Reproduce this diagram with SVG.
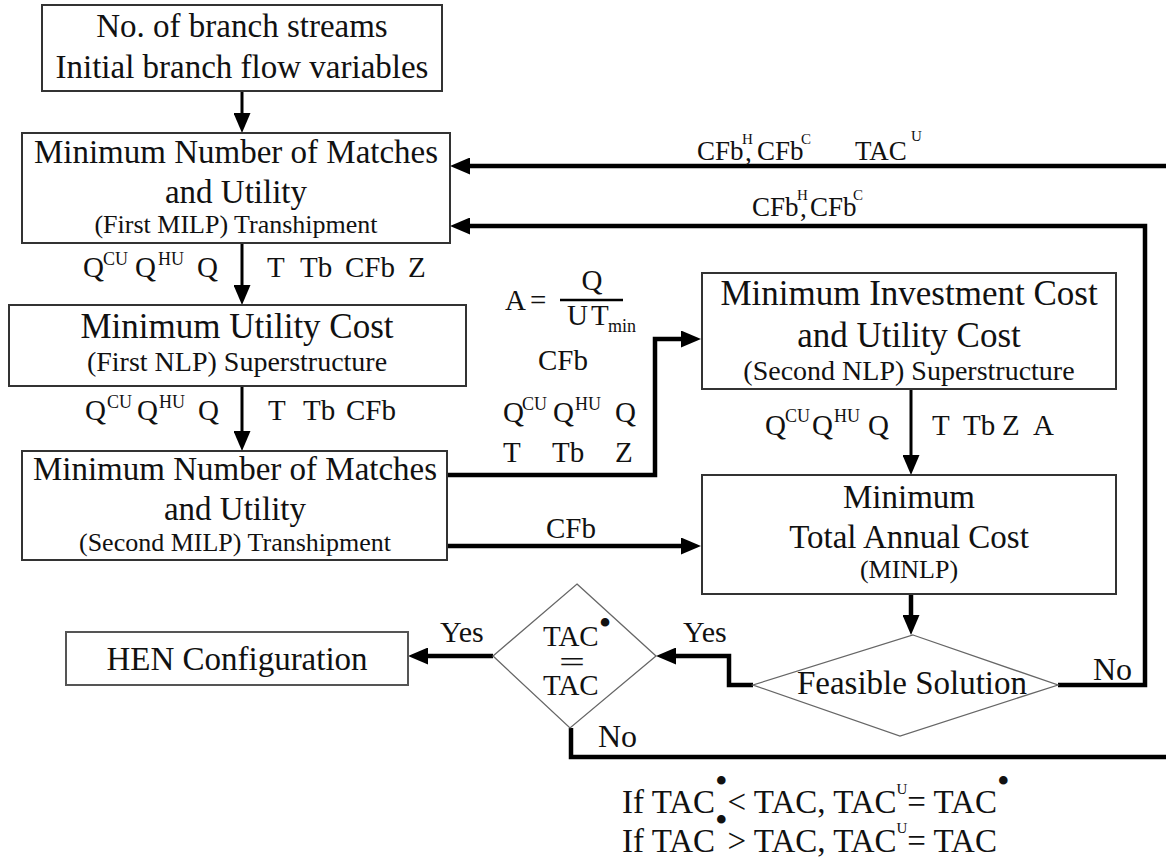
<svg xmlns="http://www.w3.org/2000/svg" width="1166" height="861" viewBox="0 0 1166 861">
<defs>
<style>
text { font-family: "Liberation Serif", "Times New Roman", serif; fill: #111; }
.box { fill: #fff; stroke: #333; stroke-width: 2; }
.dia { fill: #fff; stroke: #666; stroke-width: 1.3; }
.conn { fill: none; stroke: #000; stroke-width: 4.5; }
.vert { fill: none; stroke: #000; stroke-width: 3; }
.c { text-anchor: middle; }
.f33 { font-size: 33px; }
.f35 { font-size: 35px; }
.f28 { font-size: 28px; }
.f26 { font-size: 26px; }
.lab { font-size: 29px; }
.sup { font-size: 18px; }
.top { font-size: 27px; }
.tsup { font-size: 15px; }
.dot { font-size: 36px; }
</style>
<marker id="ah" markerUnits="userSpaceOnUse" markerWidth="20" markerHeight="17" viewBox="0 0 20 17" refX="10" refY="8.5" orient="auto">
<path d="M0,0 L20,8.5 L0,17 z" fill="#000"/>
</marker>
</defs>
<rect width="1166" height="861" fill="#fff"/>

<g id="connectors">
<path class="vert" d="M242,91 V123" marker-end="url(#ah)"/>
<path class="vert" d="M242,243 V295" marker-end="url(#ah)"/>
<path class="vert" d="M242,386 V441" marker-end="url(#ah)"/>
<path class="conn" d="M447,475 H655 V339 H691" marker-end="url(#ah)"/>
<path class="conn" d="M447,546 H691" marker-end="url(#ah)"/>
<path class="vert" d="M911,389 V465" marker-end="url(#ah)"/>
<path class="conn" d="M911,594 V625" marker-end="url(#ah)"/>
<path class="conn" d="M753,685 H729 V656 H666" marker-end="url(#ah)"/>
<path class="conn" d="M493,656 H418" marker-end="url(#ah)"/>
<path class="conn" d="M1058,685 H1145 V226 H460" marker-end="url(#ah)"/>
<path class="conn" d="M1166,166 H460" marker-end="url(#ah)"/>
<path class="conn" d="M571,728 V757 H1166"/>
</g>

<g id="labels">
<text class="top" x="697" y="160">CFb</text>
<text class="tsup" x="742" y="144">H</text>
<text class="top" x="745" y="161">,</text>
<text class="top" x="757" y="160">CFb</text>
<text class="tsup" x="801" y="144">C</text>
<text class="top" x="855" y="160">TAC</text>
<text class="tsup" x="911" y="141">U</text>

<text class="top" x="752" y="216">CFb</text>
<text class="tsup" x="797" y="200">H</text>
<text class="top" x="800" y="217">,</text>
<text class="top" x="810" y="216">CFb</text>
<text class="tsup" x="853" y="200">C</text>

<text class="lab" x="83" y="277">Q</text>
<text class="sup" x="103" y="265">CU</text>
<text class="lab" x="135" y="277">Q</text>
<text class="sup" x="158" y="265">HU</text>
<text class="lab" x="197" y="277">Q</text>
<text class="lab" x="267" y="277">T</text>
<text class="lab" x="300" y="277">Tb</text>
<text class="lab" x="345" y="277">CFb</text>
<text class="lab" x="408" y="277">Z</text>

<text class="lab" x="85" y="420">Q</text>
<text class="sup" x="107" y="408">CU</text>
<text class="lab" x="137" y="420">Q</text>
<text class="sup" x="159" y="408">HU</text>
<text class="lab" x="198" y="420">Q</text>
<text class="lab" x="268" y="420">T</text>
<text class="lab" x="303" y="420">Tb</text>
<text class="lab" x="346" y="420">CFb</text>

<text class="lab" x="505" y="310">A</text>
<text class="lab" x="530" y="310">=</text>
<line x1="560" y1="300" x2="623" y2="300" stroke="#000" stroke-width="2.5"/>
<text class="lab c" x="592" y="290">Q</text>
<text class="lab" x="567" y="325">U</text>
<text class="lab" x="591" y="325">T</text>
<text class="sup" x="608" y="332">min</text>

<text class="lab" x="538" y="370">CFb</text>
<text class="lab" x="503" y="422">Q</text>
<text class="sup" x="522" y="410">CU</text>
<text class="lab" x="553" y="422">Q</text>
<text class="sup" x="575" y="410">HU</text>
<text class="lab" x="615" y="422">Q</text>
<text class="lab" x="503" y="462">T</text>
<text class="lab" x="552" y="462">Tb</text>
<text class="lab" x="615" y="462">Z</text>
<text class="lab" x="546" y="538">CFb</text>

<text class="lab" x="765" y="435">Q</text>
<text class="sup" x="785" y="422">CU</text>
<text class="lab" x="812" y="435">Q</text>
<text class="sup" x="834" y="422">HU</text>
<text class="lab" x="868" y="435">Q</text>
<text class="lab" x="932" y="435">T</text>
<text class="lab" x="963" y="435">Tb</text>
<text class="lab" x="1002" y="435">Z</text>
<text class="lab" x="1033" y="435">A</text>

<text style="font-size:30px" x="440" y="642">Yes</text>
<text style="font-size:30px" x="683" y="642">Yes</text>
<text style="font-size:32px" x="598" y="747">No</text>
<text style="font-size:32px" x="1093" y="680">No</text>

<text class="f33" x="622" y="813">If TAC<tspan class="dot" dy="-20">•</tspan><tspan dy="20">&lt; TAC, TAC</tspan><tspan class="tsup" dy="-19">U</tspan><tspan dy="19">= TAC</tspan><tspan class="dot" dy="-20">•</tspan></text>
<text class="f33" x="622" y="852">If TAC<tspan class="dot" dy="-20">•</tspan><tspan dy="20">&gt; TAC, TAC</tspan><tspan class="tsup" dy="-19">U</tspan><tspan dy="19">= TAC</tspan></text>
</g>

<g id="node-start">
<rect class="box" x="42" y="5" width="400" height="86"/>
<text class="f33 c" x="242" y="37">No. of branch streams</text>
<text class="f33 c" x="242" y="78">Initial branch flow variables</text>
</g>

<g id="node-milp1">
<rect class="box" x="22" y="133" width="428" height="110"/>
<text class="f33 c" x="236" y="163">Minimum Number of Matches</text>
<text class="f33 c" x="236" y="203">and Utility</text>
<text class="f26 c" x="236" y="233">(First MILP) Transhipment</text>
</g>

<g id="node-nlp1">
<rect class="box" x="9" y="305" width="457" height="81"/>
<text class="f35 c" x="237" y="338">Minimum Utility Cost</text>
<text class="f28 c" x="237" y="371">(First NLP) Superstructure</text>
</g>

<g id="node-milp2">
<rect class="box" x="22" y="451" width="425" height="109"/>
<text class="f33 c" x="235" y="480">Minimum Number of Matches</text>
<text class="f33 c" x="235" y="520">and Utility</text>
<text class="f26 c" x="235" y="551">(Second MILP) Transhipment</text>
</g>

<g id="node-nlp2">
<rect class="box" x="702" y="273" width="414" height="116"/>
<text class="f35 c" x="909" y="305">Minimum Investment Cost</text>
<text class="f35 c" x="909" y="347">and Utility Cost</text>
<text class="f28 c" x="909" y="380">(Second NLP) Superstructure</text>
</g>

<g id="node-minlp">
<rect class="box" x="702" y="475" width="414" height="119"/>
<text class="f33 c" x="909" y="508">Minimum</text>
<text class="f33 c" x="909" y="548">Total Annual Cost</text>
<text class="f26 c" x="909" y="578">(MINLP)</text>
</g>

<g id="node-feasible">
<polygon class="dia" points="913,635 1058,685 900,736 753,685"/>
<text class="f33 c" x="912" y="694">Feasible Solution</text>
</g>

<g id="node-tac">
<polygon class="dia" points="577,584 656,656 570,728 493,656"/>
<text style="font-size:29px" x="543" y="646">TAC</text>
<text class="dot c" x="605" y="635">•</text>
<text class="c" style="font-size:30px" x="572" y="672" textLength="26" lengthAdjust="spacingAndGlyphs">=</text>
<text style="font-size:29px" x="543" y="695">TAC</text>
</g>

<g id="node-hen">
<rect class="box" x="66" y="632" width="342" height="53" style="stroke:#555"/>
<text class="f33 c" x="237" y="670">HEN Configuration</text>
</g>
</svg>
